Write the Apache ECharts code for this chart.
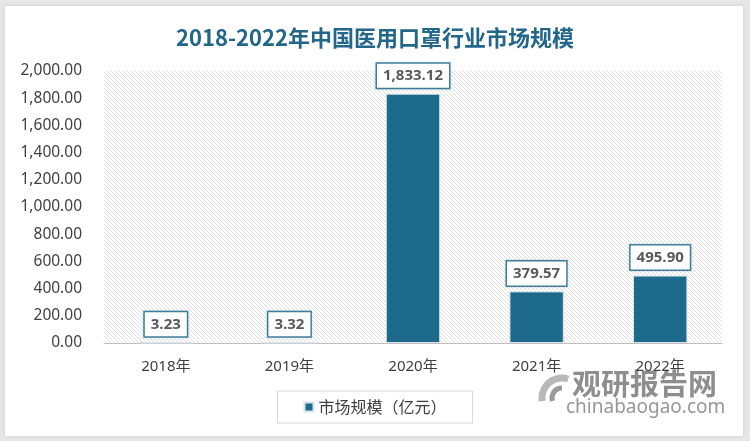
<!DOCTYPE html>
<html>
<head>
<meta charset="utf-8">
<script src="https://cdn.jsdelivr.net/npm/echarts@6/dist/echarts.min.js"></script>
<style>
html,body{margin:0;padding:0;background:#e6e6e6;}
#card{position:absolute;left:5px;top:6px;width:738px;height:430px;background:#fff;box-shadow:0 0 3px rgba(0,0,0,0.12);}
#chart{position:absolute;left:0;top:0;width:750px;height:441px;}
</style>
</head>
<body>
<div id="card"></div>
<div id="chart"></div>
<script>
const categories = ['2018年', '2019年', '2020年', '2021年', '2022年'];
const values = [3.23, 3.32, 1833.12, 379.57, 495.90];
const seriesName = '市场规模（亿元）';
const titleText = '2018-2022年中国医用口罩行业市场规模';

function makeHatch() {
  const c = document.createElement('canvas');
  c.width = 4; c.height = 4;
  const g = c.getContext('2d');
  g.fillStyle = '#ffffff';
  g.fillRect(0, 0, 4, 4);
  g.strokeStyle = '#dedede';
  g.lineWidth = 1;
  g.beginPath();
  g.moveTo(-1, -1); g.lineTo(5, 5);
  g.moveTo(-1, 3); g.lineTo(1, 5);
  g.moveTo(3, -1); g.lineTo(5, 1);
  g.stroke();
  return c;
}

function fmt(v) {
  return v.toLocaleString('en-US', {minimumFractionDigits: 2, maximumFractionDigits: 2});
}

const chart = echarts.init(document.getElementById('chart'), null, {renderer: 'canvas'});
chart.setOption({
  backgroundColor: 'transparent',
  animation: false,
  title: {
    text: titleText,
    left: 'center',
    top: 22,
    textStyle: {fontFamily: '"Noto Sans CJK SC"', fontSize: 22, fontWeight: 'bold', color: '#22668a'}
  },
  grid: {
    left: 104, right: 28, top: 71, bottom: 98,
    show: true,
    borderWidth: 0,
    backgroundColor: {image: makeHatch(), repeat: 'repeat'}
  },
  legend: {
    bottom: 18,
    left: 'center',
    data: [seriesName],
    icon: 'rect',
    itemWidth: 9,
    itemHeight: 9,
    itemGap: 6,
    borderColor: '#d9d9d9',
    borderWidth: 1,
    padding: [8, 26, 8, 26],
    textStyle: {fontFamily: '"Noto Sans CJK SC"', fontSize: 16, color: '#404040'}
  },
  xAxis: {
    type: 'category',
    data: categories,
    axisTick: {show: false},
    axisLine: {lineStyle: {color: '#bfbfbf', width: 1}},
    axisLabel: {margin: 16, fontFamily: '"Noto Sans", "Noto Sans CJK SC"', fontSize: 15, color: '#404040'}
  },
  yAxis: {
    type: 'value',
    min: 0, max: 2000, interval: 200,
    splitLine: {show: false},
    axisLine: {show: false},
    axisTick: {show: false},
    axisLabel: {
      margin: 22,
      fontFamily: '"Noto Sans"', fontSize: 15.5, color: '#404040',
      formatter: v => fmt(v)
    }
  },
  series: [{
    name: seriesName,
    type: 'bar',
    data: values,
    barWidth: '44%',
    itemStyle: {color: '#1d6a8c', borderColor: '#d6e4ea', borderWidth: 1},
    label: {
      show: true,
      position: 'top',
      distance: 6,
      formatter: p => fmt(p.value),
      fontFamily: '"Open Sans", "Noto Sans"',
      fontSize: 15,
      fontWeight: 'bold',
      color: '#595959',
      backgroundColor: '#ffffff',
      borderColor: '#3f82a3',
      borderWidth: 1.5,
      padding: [5, 6, 4, 6],
      shadowColor: 'rgba(0,0,0,0.15)',
      shadowBlur: 3
    }
  }],
  graphic: [
    {type: 'arc', shape: {cx: 562, cy: 398, r: 20, startAngle: Math.PI * 0.95, endAngle: Math.PI * 1.6}, style: {stroke: '#b8b8b8', lineWidth: 7, fill: null}, silent: true},
    {type: 'arc', shape: {cx: 562, cy: 398, r: 10, startAngle: Math.PI * 0.9, endAngle: Math.PI * 1.5}, style: {stroke: '#9a9a9a', lineWidth: 5, fill: null}, silent: true},
    {type: 'text', left: 572, top: 369, style: {text: '观研报告网', font: 'bold 29px "Noto Sans CJK SC"', fill: 'rgba(130,130,130,0.9)'}, silent: true},
    {type: 'text', left: 566, top: 398, style: {text: 'chinabaogao.com', font: '19px "Noto Sans"', fill: 'rgba(140,140,140,0.9)'}, silent: true}
  ]
});
</script>
</body>
</html>
